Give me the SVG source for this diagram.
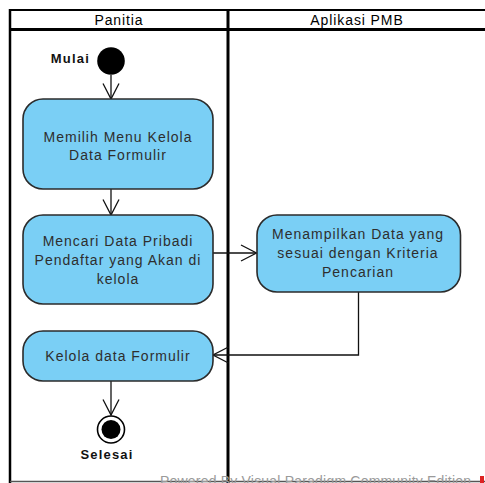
<svg xmlns="http://www.w3.org/2000/svg" width="485" height="483" viewBox="0 0 485 483">
  <style>
    .lane{stroke:#000;fill:none}
    .hdr{font-family:"Liberation Sans",Arial,sans-serif;font-size:14px;letter-spacing:0.9px;fill:#000;text-anchor:middle}
    .act rect{fill:#7ACFF5;stroke:#2b2b2b;stroke-width:1.6}
    .act text{font-family:"Liberation Sans",Arial,sans-serif;font-size:14px;letter-spacing:1px;fill:#2e2e2e;text-anchor:middle}
    .lbl{font-family:"Liberation Sans",Arial,sans-serif;font-size:13px;font-weight:bold;letter-spacing:1.2px;fill:#111}
    .con{stroke:#111;stroke-width:1.3;fill:none;marker-end:url(#open)}
    .wm{font-family:"Liberation Sans",Arial,sans-serif;font-size:14px;letter-spacing:0.2px;fill:#9a9a9a}
  </style>
  <defs>
    <marker id="open" viewBox="0 0 18 18" markerUnits="userSpaceOnUse" markerWidth="18" markerHeight="18" refX="16.5" refY="9" orient="auto">
      <path d="M1,1 L16.5,9 L1,17" fill="none" stroke="#111" stroke-width="1.3"/>
    </marker>
  </defs>
  <rect width="485" height="483" fill="#fff"/>

  <g id="swimlanes">
    <line class="lane" x1="9" y1="10" x2="485" y2="10" stroke-width="2"/>
    <line class="lane" x1="9" y1="29.5" x2="485" y2="29.5" stroke-width="3"/>
    <line class="lane" x1="10" y1="9" x2="10" y2="483" stroke-width="2.5"/>
    <line class="lane" x1="228" y1="9" x2="228" y2="483" stroke-width="3"/>
    <line x1="10" y1="481.5" x2="485" y2="481.5" stroke="#555" stroke-width="1.5"/>
    <text class="hdr" x="119" y="25">Panitia</text>
    <text class="hdr" x="357" y="25">Aplikasi PMB</text>
  </g>

  <g id="connectors">
    <line class="con" x1="111" y1="75" x2="111" y2="99"/>
    <line class="con" x1="111" y1="189" x2="111" y2="215"/>
    <line class="con" x1="213" y1="253" x2="256.5" y2="253"/>
    <polyline class="con" points="358.5,292 358.5,355 213,355"/>
    <line class="con" x1="111" y1="381" x2="111" y2="415"/>
  </g>

  <g id="start">
    <circle cx="111" cy="61" r="13.8" fill="#000"/>
    <text class="lbl" x="90" y="63.3" text-anchor="end">Mulai</text>
  </g>

  <g id="act1" class="act">
    <rect x="23" y="99" width="190" height="90" rx="20" ry="20"/>
    <text x="118" y="141.5">Memilih Menu Kelola</text>
    <text x="118" y="159.5">Data Formulir</text>
  </g>

  <g id="act2" class="act">
    <rect x="23" y="215" width="190" height="89" rx="20" ry="20"/>
    <text x="118" y="245.5">Mencari Data Pribadi</text>
    <text x="118" y="264.5">Pendaftar yang Akan di</text>
    <text x="118" y="283.5">kelola</text>
  </g>

  <g id="act3" class="act">
    <rect x="257" y="215" width="203.5" height="77" rx="20" ry="20"/>
    <text x="358" y="239.3">Menampilkan Data yang</text>
    <text x="358" y="258">sesuai dengan Kriteria</text>
    <text x="358" y="276.7">Pencarian</text>
  </g>

  <g id="act4" class="act">
    <rect x="23" y="331" width="190" height="50" rx="20" ry="20"/>
    <text x="118" y="360.5">Kelola data Formulir</text>
  </g>

  <g id="end">
    <circle cx="111" cy="429.5" r="13.5" fill="#fff" stroke="#000" stroke-width="1.6"/>
    <circle cx="111" cy="429.5" r="9.5" fill="#000"/>
    <text class="lbl" x="107" y="459.3" text-anchor="middle">Selesai</text>
  </g>

  <g id="watermark">
    <text class="wm" x="160" y="486">Powered By  Visual Paradigm Community Edition</text>
    <rect x="480" y="476" width="4" height="7" fill="#d22"/>
  </g>
</svg>
